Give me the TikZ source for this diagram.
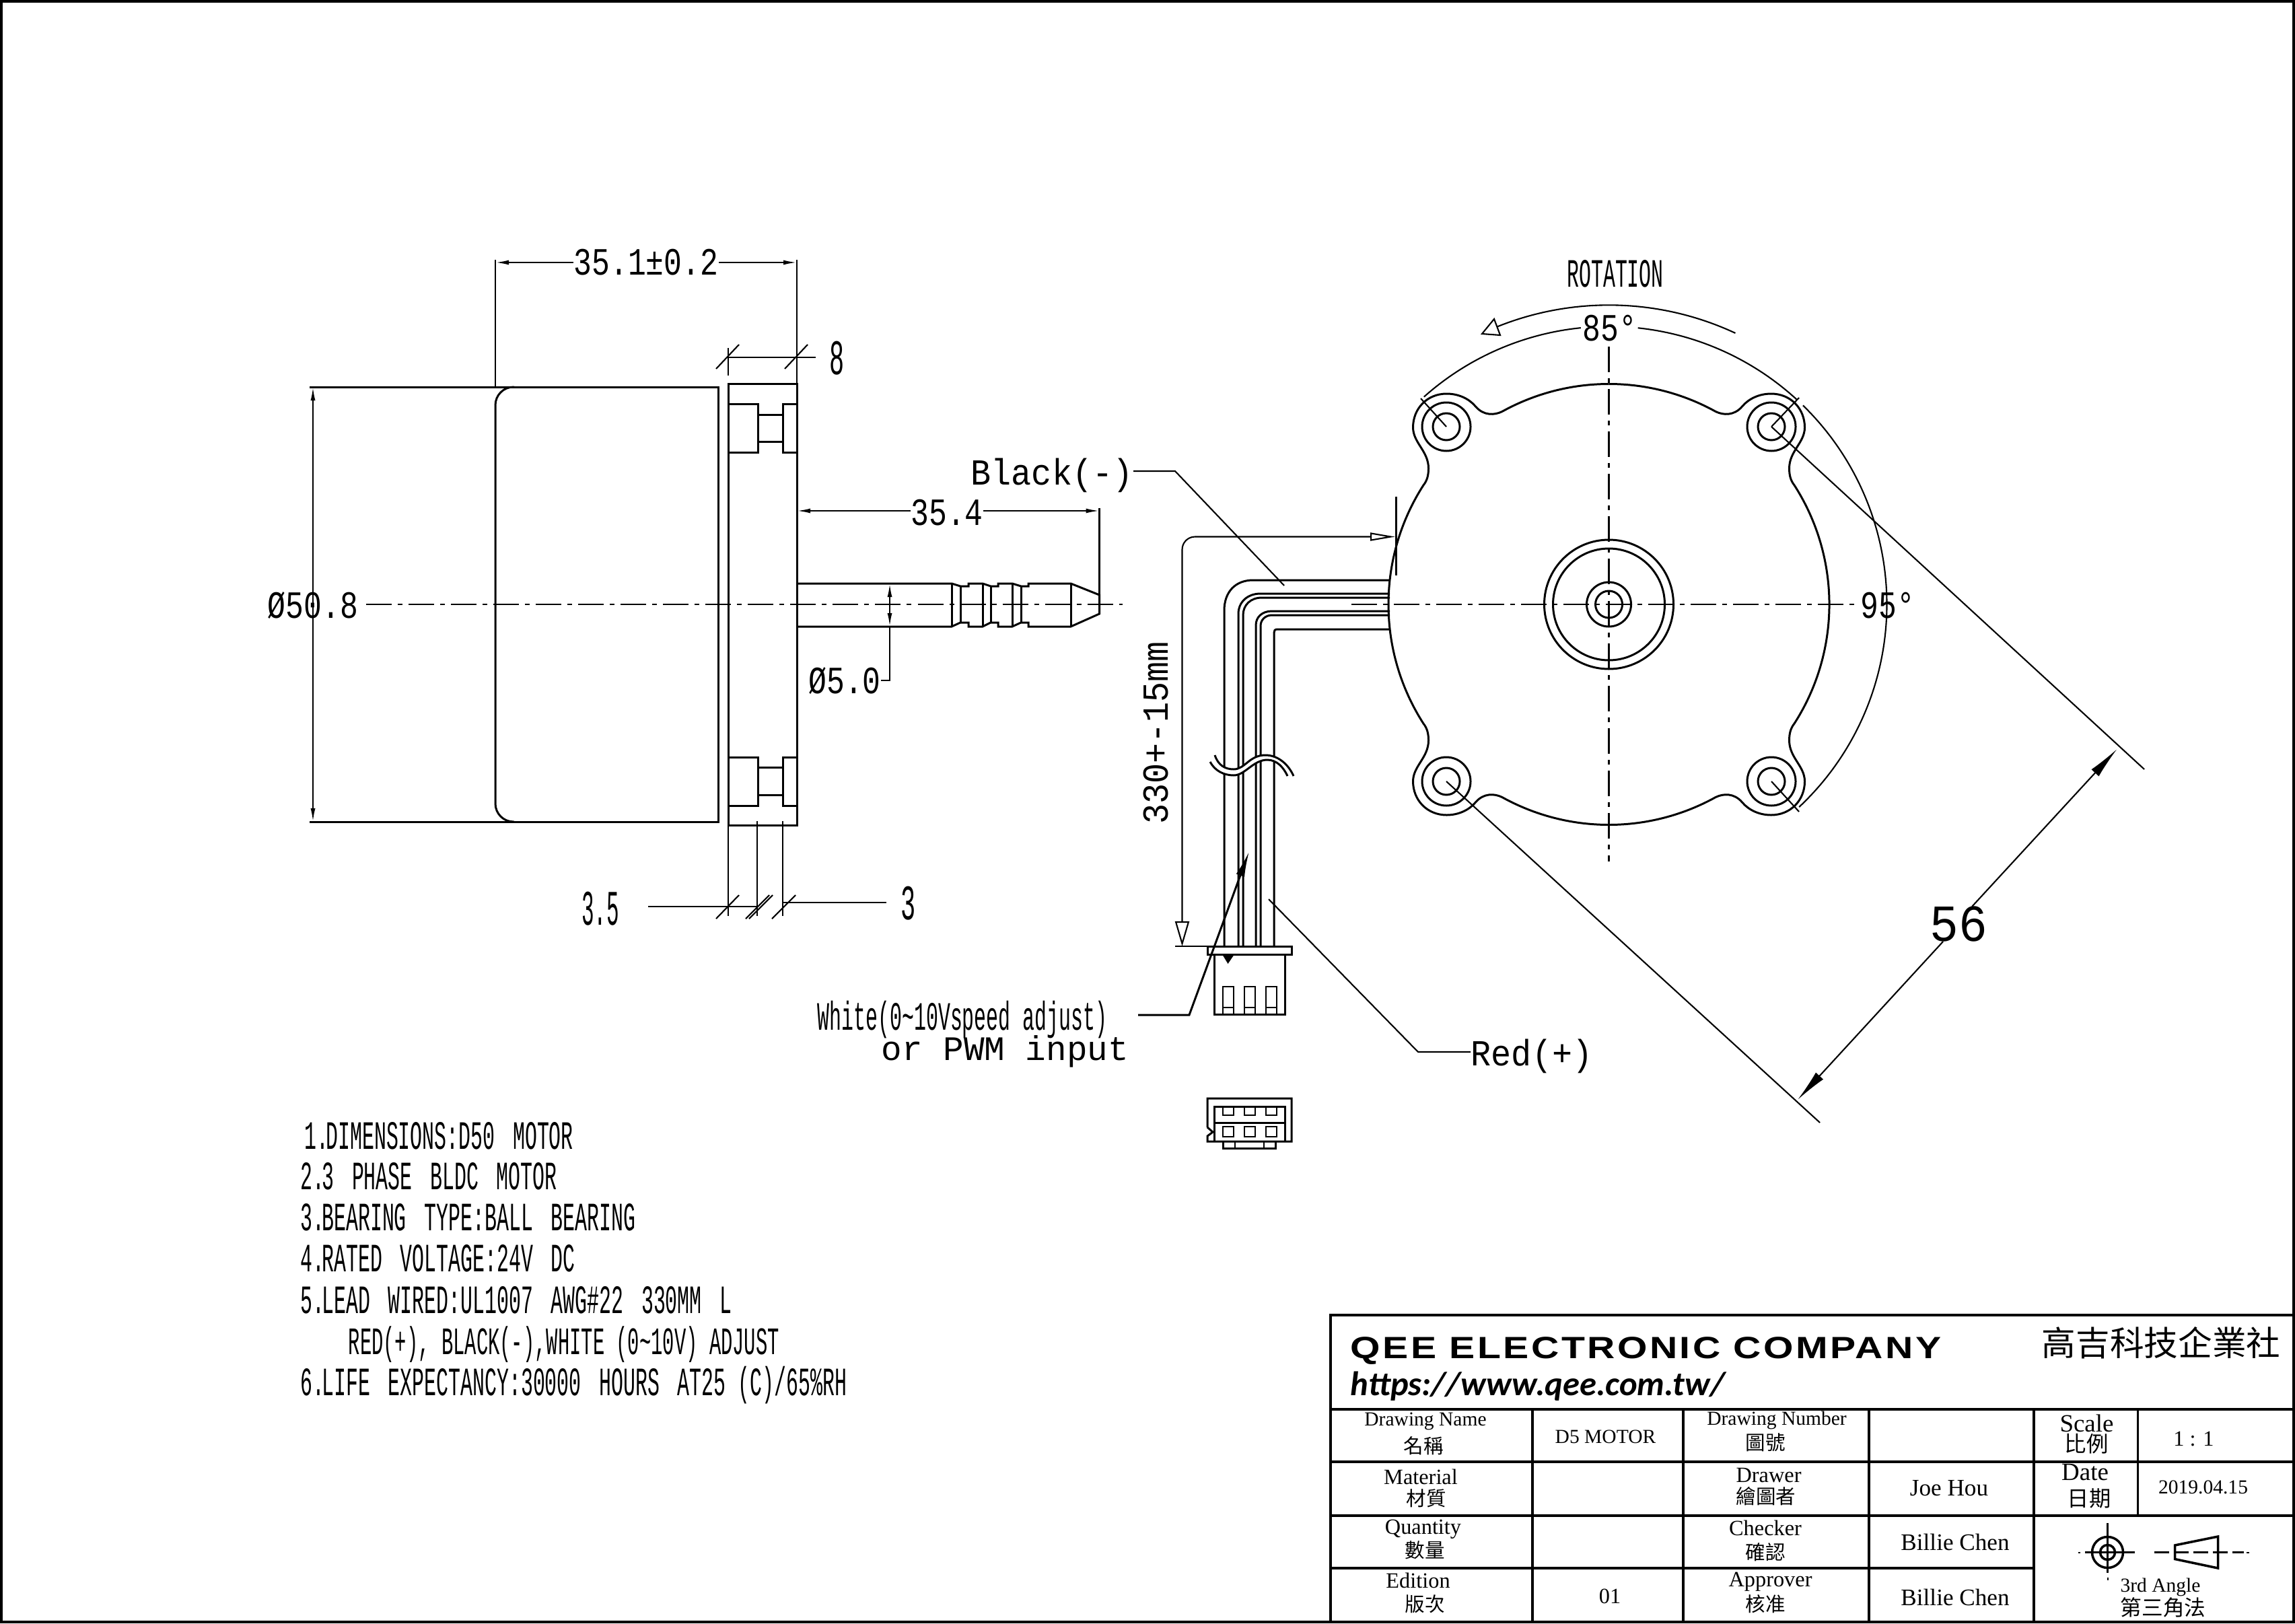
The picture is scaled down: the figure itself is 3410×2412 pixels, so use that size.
\documentclass[tikz,border=0pt]{standalone}
\usepackage{fontspec}
\usepackage{tikz}
\usetikzlibrary{arrows.meta}
\setmainfont{Liberation Serif}
\newfontfamily\cadnarrow[FakeStretch=0.5]{Liberation Mono}
\newfontfamily\cadtight[FakeStretch=0.42]{Liberation Mono}
\newfontfamily\cadmid[FakeStretch=0.78]{Liberation Mono}
\newfontfamily\cadwide[FakeStretch=0.92]{Liberation Mono}
\newfontfamily\cadfull[FakeStretch=1.0]{Liberation Mono}
\newfontfamily\qeefont[FakeStretch=1.25,LetterSpace=7.6]{Liberation Sans}
\newfontfamily\urlfont{Carlito}
\newfontfamily\cjktc{Noto Sans CJK TC}
\tikzset{
    part/.style = {line width=0.85pt},
    thinpart/.style = {line width=0.6pt},
    dimline/.style = {line width=0.6pt, >={Latex[length=0.2cm,width=0.07cm]}},
    centerline/.style = {line width=0.6pt, dash pattern=on 0.38cm off 0.09cm on 0.07cm off 0.09cm},
    gridline/.style = {line width=1.1pt},
    notetext/.style = {anchor=base west, inner sep=0pt, font=\cadnarrow\fontsize{17}{20}\selectfont},
    dimtext/.style = {anchor=base, inner sep=0pt, font=\cadmid\fontsize{16.3}{20}\selectfont},
    bigtext/.style = {anchor=base, inner sep=0pt, font=\cadnarrow\fontsize{21}{24}\selectfont},
    wiretext/.style = {anchor=base, inner sep=0pt, font=\cadwide\fontsize{15.5}{20}\selectfont},
    celltext/.style = {inner sep=0pt, font=\fontsize{9.2}{11}\selectfont},
    smallcell/.style = {inner sep=0pt, font=\fontsize{8.4}{10}\selectfont},
    cjktext/.style = {inner sep=0pt, font=\cjktc\fontsize{8.4}{10}\selectfont},
}
% one quarter of the front outline, ear at the upper left
\newcommand{\earquarter}{(0,-327.5) arc[start angle=270, end angle=241, radius=327.5]
    .. controls (-170,-281) and (-186,-280) .. (-198,-294)
    .. controls (-208,-306) and (-224,-313) .. (-241,-313)
    .. controls (-270,-313) and (-291,-291) .. (-291,-263)
    .. controls (-291,-240) and (-268,-228) .. (-268,-202)
    .. controls (-268,-192) and (-270,-184) .. (-275.6,-177)
    arc[start angle=212.7, end angle=180, radius=327.5]}
\newcommand{\numgap}{\kern-8pt\relax}    % the notes close up after the number
\newcommand{\wordgap}{\space\kern2.5pt\relax}
\begin{document}
\begin{tikzpicture}[x=0.01cm, y=-0.01cm]
    \useasboundingbox (0,0) rectangle (3410,2412);
    \draw[line width=1.2pt] (2,2) rectangle (3408,2410);    % sheet frame

    % side view
    \draw[part] (460,575) -- (1067.5,575) -- (1067.5,1221) -- (460,1221);
    \draw[part, rounded corners=0.27cm] (764,575) -- (736,575) -- (736,1221) -- (764,1221);
    \draw[part] (1082,570) rectangle (1184,1226);
    \draw[part] (1082,600) rectangle (1126,672);
    \draw[part] (1163,600) rectangle (1184,672);
    \draw[part] (1126,616) rectangle (1163,656);
    \draw[part] (1082,1125) rectangle (1126,1197);
    \draw[part] (1163,1125) rectangle (1184,1197);
    \draw[part] (1126,1140) rectangle (1163,1181);
    \draw[centerline] (544,898) -- (1668,898);

    % shaft with its grooves
    \draw[part] (1184,867) -- (1414,867) -- (1427,871) -- (1439,871) -- (1439,867)
        -- (1460,867) -- (1472,871) -- (1483,871) -- (1483,867) -- (1504,867)
        -- (1517,871) -- (1528,871) -- (1528,867) -- (1591,867) -- (1633.5,884)
        -- (1633.5,912) -- (1591,931) -- (1528,931) -- (1528,925) -- (1517,925)
        -- (1504,931) -- (1483,931) -- (1483,925) -- (1472,925) -- (1460,931)
        -- (1439,931) -- (1439,925) -- (1427,925) -- (1414,931) -- (1184,931);
    \draw[part] (1414,867) -- (1414,931);
    \draw[part] (1427,871) -- (1427,925);
    \draw[part] (1460,867) -- (1460,931);
    \draw[part] (1472,871) -- (1472,925);
    \draw[part] (1504,867) -- (1504,931);
    \draw[part] (1517,871) -- (1517,925);
    \draw[part] (1591,867) -- (1591,931);

    % side view dimensions
    \node[dimtext] (lenbody) at (960,408) {35.1±0.2};
    \draw[dimline] (736,386) -- (736,575);
    \draw[dimline] (1184,386) -- (1184,570);
    \draw[dimline, ->] (lenbody.west |- 0,390) -- (736,390);
    \draw[dimline, ->] (lenbody.east |- 0,390) -- (1184,390);

    \node[bigtext] (lenflange) at (1244,556) {8};
    \draw[dimline] (1082,517) -- (1082,558);
    \draw[dimline] (1082,531) -- (1212,531);
    \draw[dimline] (1064,548) -- (1098,512);
    \draw[dimline] (1166,548) -- (1200,512);

    \node[dimtext] (diabody) at (465,918) {Ø50.8};
    \draw[dimline, <->] (465,575) -- (465,1221);

    \node[dimtext] (lenshaft) at (1407,780) {35.4};
    \draw[dimline, ->] (lenshaft.west |- 0,759) -- (1184,759);
    \draw[dimline, ->] (lenshaft.east |- 0,759) -- (1633.5,759);
    \draw[dimline] (1633.5,755) -- (1633.5,884);

    \node[dimtext] (diashaft) at (1255,1030) {Ø5.0};
    \draw[dimline, <->] (1322,867) -- (1322,931);
    \draw[dimline] (1322,931) -- (1322,1011) -- (diashaft.east |- 0,1011);

    \node[bigtext, font=\cadtight\fontsize{21}{24}\selectfont] (lenscrew) at (892,1374) {3.5};
    \node[bigtext] (lenhead) at (1350,1366) {3};
    \draw[dimline] (1082,1226) -- (1082,1361);
    \draw[dimline] (1125,1220) -- (1125,1361);
    \draw[dimline] (1163,1220) -- (1163,1361);
    \draw[dimline] (963,1347) -- (1125,1347);
    \draw[dimline] (1163,1341) -- (1317,1341);
    \draw[dimline] (1064,1365) -- (1098,1330);
    \draw[dimline] (1108,1365) -- (1143,1330);
    \draw[dimline] (1113,1365) -- (1148,1330);
    \draw[dimline] (1147,1365) -- (1182,1330);

    % front view
    \coordinate (hub) at (2390.5,898);
    \begin{scope}[shift={(hub)}]
        \draw[part] \earquarter;
        \draw[part, xscale=-1] \earquarter;
        \draw[part, yscale=-1] \earquarter;
        \draw[part, xscale=-1, yscale=-1] \earquarter;
        \draw[part] (0,0) circle[radius=96];
        \draw[part] (0,0) circle[radius=83];
        \draw[part] (0,0) circle[radius=33];
        \draw[part] (0,0) circle[radius=20];
    \end{scope}
    \draw[centerline] (2008,898) -- (2757,898);
    \draw[centerline] (2390.5,515) -- (2390.5,1280);

    \coordinate (holeTL) at (2149,634);
    \coordinate (holeTR) at (2632,634);
    \coordinate (holeBL) at (2149,1161);
    \coordinate (holeBR) at (2632,1161);
    \draw[part] (holeTL) circle[radius=20];
    \draw[part] (holeTL) circle[radius=36];
    \draw[part] (holeTR) circle[radius=20];
    \draw[part] (holeTR) circle[radius=36];
    \draw[part] (holeBL) circle[radius=20];
    \draw[part] (holeBL) circle[radius=36];
    \draw[part] (holeBR) circle[radius=20];
    \draw[part] (holeBR) circle[radius=36];

    % angles and hole spacing
    \node[dimtext, font=\cadnarrow\fontsize{17}{20}\selectfont] (rotation) at (2400,426) {ROTATION};
    \node[dimtext] (ang85) at (2392,506) {85°};
    \node[dimtext] (ang95) at (2805,918) {95°};
    \begin{scope}[shift={(hub)}]
        \draw[dimline] (228.3:413) arc[start angle=228.3, end angle=264.2, radius=413];
        \draw[dimline] (276:413) arc[start angle=276, end angle=312.6, radius=413];
        \draw[dimline] (314.3:413) arc[start angle=314.3, end angle=406.8, radius=413];
        \draw[dimline] (295:444.7) arc[start angle=295, end angle=247.5, radius=444.7];
    \end{scope}
    \draw[thinpart, fill=white] (2202,496) -- (2220,474) -- (2229,498) -- cycle;
    \draw[dimline] (holeTL) -- (2111,592);
    \draw[dimline] (holeTR) -- (2673,591);
    \draw[dimline] (holeBR) -- (2673,1206);
    \draw[dimline] (holeTR) -- (3186,1143);
    \draw[dimline] (holeBL) -- (2704,1668);

    \node[bigtext, font=\cadwide\fontsize{22}{26}\selectfont] (spacing) at (2910,1398) {56};
    \coordinate (spaceA) at (2671,1634);
    \coordinate (spaceB) at (3145.5,1113);
    \draw[dimline, -{Latex[length=0.48cm,width=0.15cm]}] (2887,1399) -- (spaceA);
    \draw[dimline, -{Latex[length=0.48cm,width=0.15cm]}] (2930,1347) -- (spaceB);

    % lead wires
    \draw[part] (2065,862) -- (1862,862) .. controls (1835,862) and (1819,880) .. (1819,907) -- (1819,1406);
    \draw[part] (2065,882) -- (1873,882) .. controls (1853,882) and (1840,895) .. (1840,912) -- (1840,1406);
    \draw[part] (2065,888) -- (1875,888) .. controls (1858,888) and (1847,899) .. (1847,914) -- (1847,1406);
    \draw[part] (2065,908) -- (1890,908) .. controls (1875,908) and (1866,917) .. (1866,929) -- (1866,1406);
    \draw[part] (2065,914) -- (1890,914) .. controls (1880,914) and (1873,921) .. (1873,930) -- (1873,1406);
    \draw[part] (2065,935) -- (1898,935) .. controls (1894,935) and (1893,937) .. (1893,940) -- (1893,1406);
    \fill[white] (1805,1122) .. controls (1810,1137) and (1820,1143) .. (1833,1143)
        .. controls (1850,1143) and (1856,1122) .. (1880,1122)
        .. controls (1900,1122) and (1915,1137) .. (1922,1153) -- (1913,1153)
        .. controls (1907,1140) and (1897,1129) .. (1883,1129)
        .. controls (1862,1129) and (1850,1152) .. (1833,1152)
        .. controls (1818,1152) and (1805,1145) .. (1798,1132) -- cycle;
    \draw[part] (1805,1122) .. controls (1810,1137) and (1820,1143) .. (1833,1143)
        .. controls (1850,1143) and (1856,1122) .. (1880,1122)
        .. controls (1900,1122) and (1915,1137) .. (1922,1153);
    \draw[part] (1913,1153) .. controls (1907,1140) and (1897,1129) .. (1883,1129)
        .. controls (1862,1129) and (1850,1152) .. (1833,1152)
        .. controls (1818,1152) and (1805,1145) .. (1798,1132);

    % plug, side and end
    \draw[part] (1794,1406) rectangle (1919,1418);
    \draw[part] (1804.5,1418) rectangle (1909,1507);
    \fill (1816,1418) -- (1834,1418) -- (1824.5,1432) -- cycle;
    \draw[thinpart] (1817,1507) -- (1817,1466) -- (1833,1466) -- (1833,1507);
    \draw[thinpart] (1849,1507) -- (1849,1466) -- (1865,1466) -- (1865,1507);
    \draw[thinpart] (1881,1507) -- (1881,1466) -- (1897,1466) -- (1897,1507);
    \draw[thinpart] (1817,1497) -- (1833,1497);
    \draw[thinpart] (1849,1497) -- (1865,1497);
    \draw[thinpart] (1881,1497) -- (1897,1497);

    \draw[part] (1794,1675) -- (1794,1632) -- (1919,1632) -- (1919,1696) -- (1794,1696)
        -- (1794,1688) -- (1802,1682) -- (1794,1675);
    \draw[part] (1804.5,1696) -- (1804.5,1644) -- (1909,1644) -- (1909,1696);
    \draw[part] (1804.5,1668) -- (1909,1668);
    \draw[thinpart] (1817,1644) -- (1817,1657) -- (1833,1657) -- (1833,1644);
    \draw[thinpart] (1849,1644) -- (1849,1657) -- (1865,1657) -- (1865,1644);
    \draw[thinpart] (1881,1644) -- (1881,1657) -- (1897,1657) -- (1897,1644);
    \draw[thinpart] (1817,1674) rectangle (1833,1689);
    \draw[thinpart] (1849,1674) rectangle (1865,1689);
    \draw[thinpart] (1881,1674) rectangle (1897,1689);
    \draw[part] (1817,1696) -- (1817,1706) -- (1895,1706) -- (1895,1696);
    \draw[thinpart] (1835,1696) -- (1835,1706);
    \draw[thinpart] (1878,1696) -- (1878,1706);

    % lead length and wire labels
    \node[wiretext, rotate=90] (leadlen) at (1735,1089) {330+-15mm};
    \draw[dimline, rounded corners=0.19cm, {Triangle[open,length=0.37cm,width=0.12cm]}-{Triangle[open,length=0.37cm,width=0.21cm]}]
        (2073,797.5) -- (1756.5,797.5) -- (1756.5,1406);
    \draw[dimline] (2074.5,738) -- (2074.5,855);
    \draw[dimline] (1746,1406) -- (1794,1406);

    \node[wiretext] (labblack) at (1563,720) {Black(-)};
    \coordinate (wireblack) at (1908,870);
    \draw[dimline] (labblack.east |- 0,700) -- (1746,700) -- (wireblack);

    \node[wiretext] (labred) at (2276,1583) {Red(+)};
    \coordinate (wirered) at (1885,1336);
    \draw[dimline] (labred.west |- 0,1563) -- (2107,1563) -- (wirered);

    \node[notetext] (labwhite) at (1214,1530) {White(0\string~10Vspeed adjust)};
    \node[wiretext, anchor=base west, font=\cadfull\fontsize{14.5}{20}\selectfont] (labpwm) at (1309,1575) {or PWM input};
    \coordinate (wirewhite) at (1856,1265);
    \draw[part, -{Latex[length=0.38cm,width=0.13cm]}] (1691,1508) -- (1767,1508) -- (wirewhite);

    % notes
    \node[notetext] (note1) at (452,1707) {1. \numgap DIMENSIONS:D50\wordgap MOTOR};
    \node[notetext] (note2) at (446,1767) {2. \numgap 3\wordgap PHASE\wordgap BLDC\wordgap MOTOR};
    \node[notetext] (note3) at (446,1828) {3. \numgap BEARING\wordgap TYPE:BALL\wordgap BEARING};
    \node[notetext] (note4) at (446,1889) {4. \numgap RATED\wordgap VOLTAGE:24V\wordgap DC};
    \node[notetext] (note5) at (446,1951) {5. \numgap LEAD\wordgap WIRED:UL1007\wordgap AWG\#22\wordgap 330MM\wordgap L};
    \node[notetext, font=\cadnarrow\fontsize{16.4}{20}\selectfont] (note5b) at (517,2012) {RED(+), BLACK(-),WHITE (0\string~10V) ADJUST};
    \node[notetext] (note6) at (446,2073) {6. \numgap LIFE\wordgap EXPECTANCY:30000\wordgap HOURS\wordgap AT25 (C)/65\%RH};

    % title block
    \draw[gridline] (3410,1954) -- (1977,1954) -- (1977,2410);
    \draw[gridline] (1977,2094) -- (3410,2094);
    \draw[gridline] (1977,2172) -- (3410,2172);
    \draw[gridline] (1977,2252) -- (3410,2252);
    \draw[gridline] (1977,2330) -- (3022,2330);
    \draw[gridline] (2277,2094) -- (2277,2410);
    \draw[gridline] (2501,2094) -- (2501,2410);
    \draw[gridline] (2777,2094) -- (2777,2410);
    \draw[gridline] (3022,2094) -- (3022,2410);
    \draw[gridline] (3176.5,2094) -- (3176.5,2252);

    \node[anchor=base west, inner sep=0pt, font=\qeefont\bfseries\fontsize{13}{15}\selectfont] (company) at (2006,2018) {QEE ELECTRONIC COMPANY};
    \node[anchor=base east, inner sep=0pt, font=\cjktc\fontsize{14.4}{16}\selectfont] (companycn) at (3389,2014) {高吉科技企業社};
    \node[anchor=base west, inner sep=0pt, font=\urlfont\bfseries\itshape\fontsize{14.4}{16}\selectfont] (website) at (2006,2073) {https://www.qee.com.tw/};

    \node[smallcell] (c11) at (2118,2112) {Drawing Name};
    \node[cjktext] (c11b) at (2115,2148) {名稱};
    \node[smallcell] (c12) at (2385.5,2135) {D5 MOTOR};
    \node[smallcell] (c13) at (2640,2110) {Drawing Number};
    \node[cjktext] (c13b) at (2623,2143) {圖號};
    \node[celltext, font=\fontsize{10.5}{12}\selectfont] (c15) at (3100.5,2115) {Scale};
    \node[cjktext, font=\cjktc\fontsize{9.2}{11}\selectfont] (c15b) at (3100,2145) {比例};
    \node[celltext] (c16) at (3259.5,2138) {1 : 1};

    \node[celltext] (c21) at (2111,2194) {Material};
    \node[cjktext] (c21b) at (2119,2226.5) {材質};
    \node[celltext] (c23) at (2628,2192) {Drawer};
    \node[cjktext] (c23b) at (2624,2223) {繪圖者};
    \node[celltext, font=\fontsize{10}{12}\selectfont] (c24) at (2896,2211.5) {Joe Hou};
    \node[celltext, font=\fontsize{10.5}{12}\selectfont] (c25) at (3098,2188) {Date};
    \node[cjktext, font=\cjktc\fontsize{9.2}{11}\selectfont] (c25b) at (3104,2226.5) {日期};
    \node[smallcell] (c26) at (3273.5,2210) {2019.04.15};

    \node[celltext] (c31) at (2114.5,2272) {Quantity};
    \node[cjktext] (c31b) at (2117,2303) {數量};
    \node[celltext] (c33) at (2623,2270) {Checker};
    \node[cjktext] (c33b) at (2623,2306.5) {確認};
    \node[celltext, font=\fontsize{10}{12}\selectfont] (c34) at (2905,2291.5) {Billie Chen};

    \node[celltext] (c41) at (2107,2348) {Edition};
    \node[cjktext] (c41b) at (2117,2383) {版次};
    \node[celltext] (c42) at (2392,2371.5) {01};
    \node[celltext] (c43) at (2630.5,2350) {Approver};
    \node[cjktext] (c43b) at (2623,2383) {核准};
    \node[celltext, font=\fontsize{10}{12}\selectfont] (c44) at (2905,2373) {Billie Chen};

    % projection symbol
    \node[smallcell] (angle) at (3210,2358) {3rd Angle};
    \node[cjktext, font=\cjktc\fontsize{9}{11}\selectfont] (anglecn) at (3214,2388) {第三角法};
    \draw[part, line width=1pt] (3131.5,2306.5) circle[radius=23];
    \draw[part, line width=1pt] (3131.5,2306.5) circle[radius=11];
    \draw[part] (3098,2306.5) -- (3172,2306.5);
    \draw[part] (3131.5,2263) -- (3131.5,2337);
    \fill (3088,2305.5) rectangle (3091,2307.5);
    \fill (3130.5,2344) rectangle (3132.5,2348);
    \draw[part, line width=1pt] (3231.5,2296) -- (3295.5,2283) -- (3295.5,2330) -- (3231.5,2316.5) -- cycle;
    \draw[part, line width=1pt, dash pattern=on 0.22cm off 0.07cm] (3201,2306.5) -- (3334,2306.5);
    \fill (3338,2305.5) rectangle (3342,2307.5);
\end{tikzpicture}
\end{document}
